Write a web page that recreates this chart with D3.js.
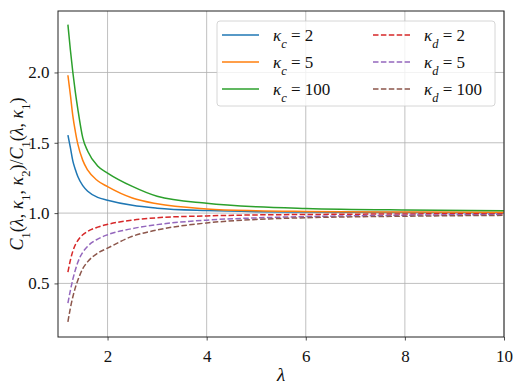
<!DOCTYPE html>
<html>
<head>
<meta charset="utf-8">
<script src="https://d3js.org/d3.v7.min.js"></script>
</head>
<body style="margin:0">
<svg id="plot" width="519" height="391"></svg>
<script>
// lambda sample points (x values)
const lambdas = [1.2, 1.25, 1.3, 1.35, 1.4, 1.5, 1.6, 1.8, 2.0, 2.5, 3, 4, 5, 6, 8, 10];

// ratio values
const kc2   = [1.555, 1.465, 1.37, 1.31, 1.26, 1.195, 1.155, 1.112, 1.092, 1.055, 1.035, 1.018, 1.010, 1.007, 1.004, 1.003];
const kc5   = [1.98, 1.84, 1.69, 1.58, 1.49, 1.375, 1.305, 1.23, 1.188, 1.107, 1.066, 1.030, 1.017, 1.012, 1.008, 1.006];
const kc100 = [2.34, 2.16, 2.0, 1.86, 1.74, 1.535, 1.44, 1.335, 1.285, 1.19, 1.12, 1.070, 1.045, 1.033, 1.022, 1.017];
const kd2   = [0.58, 0.665, 0.73, 0.775, 0.805, 0.846, 0.87, 0.90, 0.92, 0.95, 0.967, 0.980, 0.987, 0.990, 0.994, 0.996];
const kd5   = [0.36, 0.45, 0.53, 0.595, 0.65, 0.722, 0.765, 0.815, 0.846, 0.89, 0.918, 0.950, 0.966, 0.975, 0.985, 0.990];
const kd100 = [0.227, 0.325, 0.405, 0.47, 0.522, 0.605, 0.655, 0.715, 0.751, 0.835, 0.88, 0.930, 0.955, 0.967, 0.978, 0.984];

const xTicks = [2, 4, 6, 8, 10];
const yTicks = [0.5, 1.0, 1.5, 2.0];

const FONT = '"Liberation Serif", "Times New Roman", serif';

const series = [
  { sym: "c", k: "2",   vals: kc2,   color: "#1f77b4", dash: null },
  { sym: "c", k: "5",   vals: kc5,   color: "#ff7f0e", dash: null },
  { sym: "c", k: "100", vals: kc100, color: "#2ca02c", dash: null },
  { sym: "d", k: "2",   vals: kd2,   color: "#d62728", dash: "5.5,2.4" },
  { sym: "d", k: "5",   vals: kd5,   color: "#9467bd", dash: "5.5,2.4" },
  { sym: "d", k: "100", vals: kd100, color: "#8c564b", dash: "5.5,2.4" }
];

const margin = { left: 58, right: 15, top: 11, bottom: 54 };
const W = 519, H = 391;
const pw = W - margin.left - margin.right;
const ph = H - margin.top - margin.bottom;

const svg = d3.select("#plot");
const g = svg.append("g").attr("transform", `translate(${margin.left},${margin.top})`);

const x = d3.scaleLinear().domain([1, 10]).range([0, pw]);
const y = d3.scaleLinear().domain([0.119, 2.437]).range([ph, 0]);

// serif text helper
function serif(sel, size) {
  return sel.style("font-family", FONT, "important").style("font-size", size + "px").attr("fill", "#111");
}

// grid
g.append("g").selectAll("line").data(xTicks).enter().append("line")
  .attr("x1", d => x(d)).attr("x2", d => x(d)).attr("y1", 0).attr("y2", ph)
  .attr("stroke", "#b0b0b0").attr("stroke-width", 0.8);
g.append("g").selectAll("line").data(yTicks).enter().append("line")
  .attr("y1", d => y(d)).attr("y2", d => y(d)).attr("x1", 0).attr("x2", pw)
  .attr("stroke", "#b0b0b0").attr("stroke-width", 0.8);

// curves
const line = d3.line().curve(d3.curveMonotoneX)
  .x(d => x(d[0])).y(d => y(d[1]));

g.append("defs").append("clipPath").attr("id", "clip")
  .append("rect").attr("width", pw).attr("height", ph);

series.forEach(s => {
  g.append("path")
    .attr("clip-path", "url(#clip)")
    .attr("d", line(lambdas.map((l, i) => [l, s.vals[i]])))
    .attr("fill", "none")
    .attr("stroke", s.color)
    .attr("stroke-width", 1.5)
    .attr("stroke-dasharray", s.dash);
});

// axes
const xAxis = g.append("g").attr("transform", `translate(0,${ph})`)
  .call(d3.axisBottom(x).tickValues(xTicks).tickFormat(d3.format("d")).tickSizeInner(3.5).tickSizeOuter(0).tickPadding(5));
const yAxis = g.append("g")
  .call(d3.axisLeft(y).tickValues(yTicks).tickFormat(d3.format(".1f")).tickSizeInner(3.5).tickSizeOuter(0).tickPadding(5));
[xAxis, yAxis].forEach(a => {
  a.attr("font-family", null).attr("font-size", null);
  a.select(".domain").remove();
  a.selectAll("line").attr("stroke", "#222").attr("stroke-width", 0.8);
  serif(a.selectAll("text"), 17);
});
xAxis.selectAll("text").attr("dy", "0.95em");

// frame
g.append("rect").attr("width", pw).attr("height", ph)
  .attr("fill", "none").attr("stroke", "#222").attr("stroke-width", 1);

// axis labels
serif(svg.append("text"), 19).attr("x", margin.left + x(5.5)).attr("y", 381)
  .attr("text-anchor", "middle").style("font-style", "italic").text("λ");

const yl = serif(svg.append("text"), 18)
  .attr("transform", `translate(23,${margin.top + ph / 2}) rotate(-90)`)
  .attr("text-anchor", "middle");
function part(el, txt, italic, sub) {
  const t = el.append("tspan").text(txt);
  if (italic) t.style("font-style", "italic");
  if (sub) t.attr("baseline-shift", "sub").style("font-size", "12.5px");
  return t;
}
part(yl, "C", true); part(yl, "1", false, true); part(yl, "(", false);
part(yl, "λ", true); part(yl, ", ", false); part(yl, "κ", true); part(yl, "1", false, true);
part(yl, ", ", false); part(yl, "κ", true); part(yl, "2", false, true); part(yl, ")/", false);
part(yl, "C", true); part(yl, "1", false, true); part(yl, "(", false);
part(yl, "λ", true); part(yl, ", ", false); part(yl, "κ", true); part(yl, "1", false, true);
part(yl, ")", false);

// legend
const lg = svg.append("g").attr("transform", "translate(217,21)");
lg.append("rect").attr("width", 278).attr("height", 85).attr("rx", 3)
  .attr("fill", "#fff").attr("fill-opacity", 0.8)
  .attr("stroke", "#cccccc").attr("stroke-width", 0.8);
series.forEach((s, i) => {
  const col = i < 3 ? 0 : 1, row = i % 3;
  const lx = col === 0 ? 5 : 156;
  const ly = 14 + row * 27;
  lg.append("line").attr("x1", lx).attr("x2", lx + 37).attr("y1", ly).attr("y2", ly)
    .attr("stroke", s.color).attr("stroke-width", 1.5).attr("stroke-dasharray", s.dash);
  const t = serif(lg.append("text"), 17).attr("x", lx + 51).attr("y", ly + 6);
  t.append("tspan").text("κ").style("font-style", "italic");
  t.append("tspan").text(s.sym).style("font-style", "italic").style("font-size", "12.5px").attr("baseline-shift", "sub");
  t.append("tspan").text(" = " + s.k).attr("baseline-shift", "0");
});
</script>
</body>
</html>
